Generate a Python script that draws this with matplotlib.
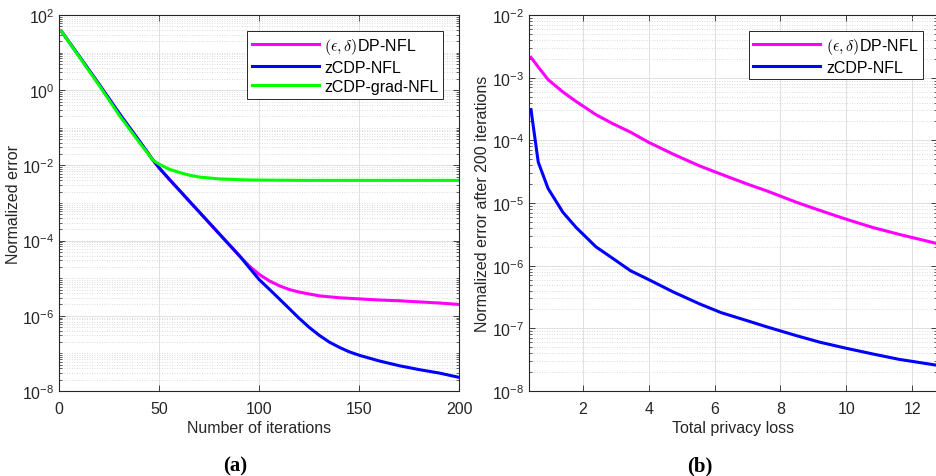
import numpy as np
import matplotlib.pyplot as plt
from matplotlib.ticker import LogLocator, NullFormatter

plt.rcParams['font.family'] = ['Liberation Sans', 'DejaVu Sans']
plt.rcParams['mathtext.fontset'] = 'cm'
plt.rcParams['font.size'] = 11.5

# (a) error vs. iterations
iters = [1, 10, 20, 30, 40, 47, 50, 55, 60, 65, 70, 80, 90, 95, 100, 105, 110, 115,
         120, 125, 130, 135, 140, 145, 150, 160, 170, 180, 190, 200]
err_dp = [37.2, 7.94, 1.41, 0.24, 0.0447, 0.0135, 8.5e-3, 4.27e-3, 2.19e-3, 1.12e-3,
          5.75e-4, 1.51e-4, 3.98e-5, 2.1e-5, 1.26e-5, 8.5e-6, 6.3e-6, 5.0e-6,
          4.27e-6, 3.8e-6, 3.39e-6, 3.2e-6, 3.02e-6, 2.92e-6, 2.82e-6, 2.63e-6,
          2.51e-6, 2.34e-6, 2.19e-6, 2.0e-6]
err_zcdp = [37.2, 7.94, 1.41, 0.24, 0.0447, 0.0135, 8.5e-3, 4.27e-3, 2.19e-3, 1.12e-3,
            5.75e-4, 1.51e-4, 3.98e-5, 1.9e-5, 9.1e-6, 5.1e-6, 2.82e-6, 1.55e-6,
            8.5e-7, 4.9e-7, 3.02e-7, 2.0e-7, 1.45e-7, 1.1e-7, 8.9e-8, 6.3e-8,
            4.7e-8, 3.7e-8, 3.0e-8, 2.3e-8]
err_grad = [37.2, 7.7, 1.33, 0.215, 0.041, 0.0135, 0.0107, 7.9e-3, 6.5e-3, 5.5e-3,
            4.9e-3, 4.37e-3, 4.17e-3, 4.1e-3, 4.07e-3, 4.05e-3, 4.03e-3, 4.02e-3,
            4.0e-3, 4.0e-3, 4.0e-3, 4.0e-3, 4.0e-3, 4.0e-3, 4.0e-3, 4.0e-3,
            4.0e-3, 4.0e-3, 4.0e-3, 4.0e-3]

# (b) error after 200 iterations vs. total privacy loss
loss = [0.43, 0.65, 0.95, 1.4, 1.8, 2.4, 2.9, 3.45, 4.0, 4.75, 5.55, 6.2, 7.0, 7.6,
        8.5, 9.2, 10.0, 10.8, 11.6, 12.7]
final_dp = [2.11e-3, 1.48e-3, 9.3e-4, 5.9e-4, 4.17e-4, 2.57e-4, 1.86e-4, 1.35e-4,
            9.3e-5, 6.0e-5, 3.9e-5, 2.88e-5, 2.0e-5, 1.55e-5, 1.02e-5, 7.6e-6,
            5.5e-6, 4.07e-6, 3.16e-6, 2.29e-6]
final_zcdp = [3.1e-4, 4.5e-5, 1.7e-5, 7.1e-6, 4.07e-6, 2.0e-6, 1.32e-6, 8.3e-7,
              6.0e-7, 3.8e-7, 2.45e-7, 1.78e-7, 1.32e-7, 1.05e-7, 7.6e-8, 6.0e-8,
              4.8e-8, 3.9e-8, 3.2e-8, 2.6e-8]

lbl_dp = r'$(\epsilon,\delta)$DP-NFL'
dark = '#262626'
fs = 11.5

W, H = 936, 477
fig = plt.figure(figsize=(W / 100, H / 100), dpi=100)
ax1 = fig.add_axes([59.3 / W, (H - 392) / H, 400 / W, 376 / H])
ax2 = fig.add_axes([529 / W, (H - 392) / H, 408 / W, 376 / H])


def style(ax):
    ax.set_yscale('log')
    ax.yaxis.set_minor_locator(LogLocator(base=10, subs=np.arange(1, 10), numticks=100))
    ax.yaxis.set_minor_formatter(NullFormatter())
    ax.grid(True, which='major', color='#e0e0e0', lw=0.7, ls='-')
    ax.grid(True, which='minor', color='#cfcfcf', lw=0.6, ls=(0, (1, 2)))
    ax.set_axisbelow(True)
    ax.tick_params(which='both', direction='in', top=True, right=True,
                   colors=dark, labelsize=fs)
    ax.tick_params(which='major', length=4, width=0.6)
    ax.tick_params(which='minor', length=2, width=0.5)
    ax.tick_params(axis='x', pad=7)
    for s in ax.spines.values():
        s.set_color(dark)
        s.set_linewidth(0.8)


def add_legend(ax, anchor):
    leg = ax.legend(loc='upper right', bbox_to_anchor=anchor, borderaxespad=0,
                    fancybox=False, edgecolor=dark, handlelength=4.2, fontsize=fs,
                    borderpad=0.3, labelspacing=0.25, handletextpad=0.35,
                    framealpha=1)
    leg.get_frame().set_linewidth(0.7)


style(ax1)
ax1.plot(iters, err_dp, color='#ff00ff', lw=2.2, label=lbl_dp)
ax1.plot(iters, err_zcdp, color='#0000ff', lw=2.2, label='zCDP-NFL')
ax1.plot(iters, err_grad, color='#00ff00', lw=2.2, label='zCDP-grad-NFL')
ax1.set_xlim(0, 200)
ax1.set_ylim(1e-8, 1e2)
ax1.set_xticks([0, 50, 100, 150, 200])
ax1.set_yticks([1e-8, 1e-6, 1e-4, 1e-2, 1e0, 1e2])
ax1.set_xlabel('Number of iterations', color=dark, fontsize=fs, labelpad=3)
ax1.set_ylabel('Normalized error', color=dark, fontsize=fs, labelpad=1)
add_legend(ax1, (0.96, 0.957))

style(ax2)
ax2.plot(loss, final_dp, color='#ff00ff', lw=2.2, label=lbl_dp)
ax2.plot(loss, final_zcdp, color='#0000ff', lw=2.2, label='zCDP-NFL')
ax2.set_xlim(0.37, 12.75)
ax2.set_ylim(1e-8, 1e-2)
ax2.set_xticks([2, 4, 6, 8, 10, 12])
ax2.set_xlabel('Total privacy loss', color=dark, fontsize=fs, labelpad=3)
ax2.set_ylabel('Normalized error after 200 iterations', color=dark, fontsize=fs,
               labelpad=1)
add_legend(ax2, (0.966, 0.958))

fig.text(235 / W, 1 - 466 / H, '(a)', ha='center', va='center',
         family='Liberation Serif', weight='bold', fontsize=15)
fig.text(700 / W, 1 - 466 / H, '(b)', ha='center', va='center',
         family='Liberation Serif', weight='bold', fontsize=15)

fig.savefig('out.png', dpi=100)
